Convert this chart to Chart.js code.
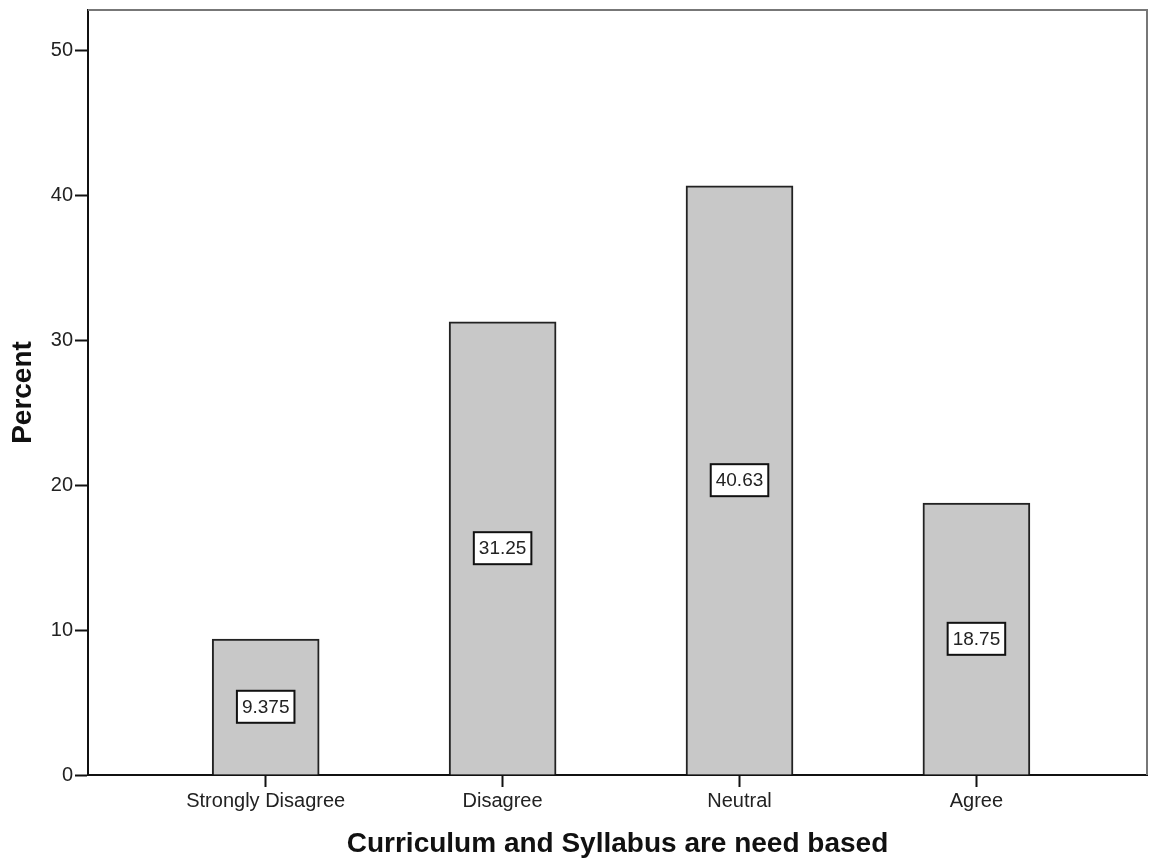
<!DOCTYPE html>
<html>
<head>
<meta charset="utf-8">
<script src="https://cdn.jsdelivr.net/npm/chart.js@4.4.0/dist/chart.umd.min.js"></script>
<style>
  body { margin: 0; background: #fff; }
</style>
</head>
<body>
<canvas id="chart" width="1150" height="861"></canvas>
<script>
const categories = ['Strongly Disagree', 'Disagree', 'Neutral', 'Agree'];
const percents = [9.375, 31.25, 40.63, 18.75];
const valueLabels = ['9.375', '31.25', '40.63', '18.75'];
const yTicks = [0, 10, 20, 30, 40, 50];

const FONT = '"Liberation Sans", Arial, sans-serif';

// white boxed value label in the middle of each bar
const boxLabels = {
  id: 'boxLabels',
  afterDatasetsDraw(chart) {
    const ctx = chart.ctx;
    const meta = chart.getDatasetMeta(0);
    ctx.save();
    ctx.font = '19px ' + FONT;
    ctx.textAlign = 'center';
    ctx.textBaseline = 'middle';
    meta.data.forEach((bar, i) => {
      const txt = valueLabels[i];
      const cx = bar.x;
      const cy = (bar.y + bar.base) / 2;
      const w = ctx.measureText(txt).width + 10;
      const h = 32;
      ctx.fillStyle = '#fff';
      ctx.fillRect(cx - w / 2, cy - h / 2, w, h);
      ctx.strokeStyle = '#111';
      ctx.lineWidth = 2;
      ctx.strokeRect(cx - w / 2, cy - h / 2, w, h);
      ctx.fillStyle = '#222';
      ctx.fillText(txt, cx, cy + 1);
    });
    ctx.restore();
  }
};

// grey frame line on top and right of the plot
const frame = {
  id: 'frame',
  afterDraw(chart) {
    const {left, right, top, bottom} = chart.chartArea;
    const ctx = chart.ctx;
    ctx.save();
    ctx.strokeStyle = '#777';
    ctx.lineWidth = 2;
    ctx.beginPath();
    ctx.moveTo(left, top);
    ctx.lineTo(right, top);
    ctx.lineTo(right, bottom);
    ctx.stroke();
    ctx.restore();
  }
};

new Chart(document.getElementById('chart'), {
  type: 'bar',
  data: {
    datasets: [{
      data: percents.map((v, i) => ({ x: i, y: v })),
      backgroundColor: '#c8c8c8',
      borderColor: '#222',
      borderWidth: 2,
      borderSkipped: 'bottom',
      barThickness: 107
    }]
  },
  options: {
    responsive: false,
    animation: false,
    layout: { padding: { top: 10, right: 3, left: 0, bottom: 0 } },
    plugins: { legend: { display: false }, tooltip: { enabled: false }, title: { display: false } },
    scales: {
      x: {
        type: 'linear',
        offset: false,
        min: -0.75,
        max: 3.72,
        afterBuildTicks: s => { s.ticks = categories.map((c, i) => ({ value: i })); },
        afterFit: s => { s.height = 86; s.paddingLeft = 0; s.paddingRight = 0; },
        ticks: {
          callback: v => categories[v],
          color: '#222',
          padding: 2,
          maxRotation: 0,
          autoSkip: false,
          font: { family: FONT, size: 20 }
        },
        grid: { offset: false, drawOnChartArea: false, drawTicks: true, tickLength: 12, tickColor: '#111', tickWidth: 2 },
        border: { color: '#111', width: 2 },
        title: {
          display: true,
          text: 'Curriculum and Syllabus are need based',
          color: '#111',
          padding: 0,
          font: { family: FONT, size: 28, weight: 'bold' }
        }
      },
      y: {
        min: 0,
        max: 52.76,
        afterBuildTicks: s => { s.ticks = yTicks.map(v => ({ value: v })); },
        afterFit: s => { s.width = 88; s.paddingTop = 0; s.paddingBottom = 0; },
        ticks: {
          color: '#222',
          padding: 2,
          font: { family: FONT, size: 20 }
        },
        grid: { drawOnChartArea: false, drawTicks: true, tickLength: 13, tickColor: '#111', tickWidth: 2 },
        border: { color: '#111', width: 2 },
        title: {
          display: true,
          text: 'Percent',
          color: '#111',
          padding: 6,
          font: { family: FONT, size: 28, weight: 'bold' }
        }
      }
    }
  },
  plugins: [boxLabels, frame]
});
</script>
</body>
</html>
